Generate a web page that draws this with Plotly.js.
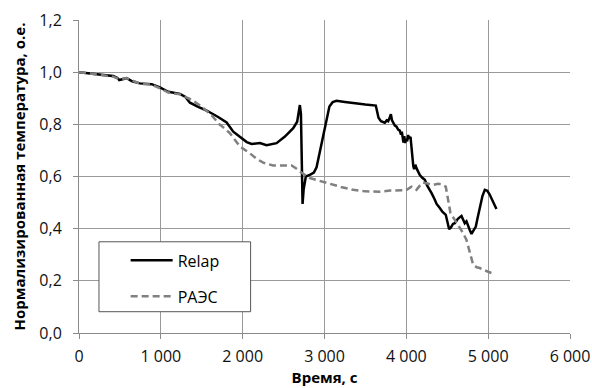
<!DOCTYPE html>
<html>
<head>
<meta charset="utf-8">
<script src="https://cdn.plot.ly/plotly-3.0.1.min.js"></script>
<style>html,body{margin:0;padding:0;background:#fff;}#chart{width:592px;height:388px;}</style>
</head>
<body>
<div id="chart"></div>
<script>
var relapTime = [0,175,300,419,470,492,582,650,745,888,989,1091,1234,1300,1356,1450,1560,1700,1804,1885,1987,2050,2109,2211,2292,2414,2516,2618,2666,2699,2712,2722,2732,2745,2772,2821,2870,2903,2935,2964,3000,3025,3060,3100,3147,3250,3350,3500,3627,3660,3690,3737,3760,3778,3800,3811,3825,3839,3860,3880,3900,3920,3935,3945,3953,3965,3975,3985,3995,4010,4022,4035,4051,4065,4075,4085,4095,4110,4124,4145,4165,4195,4226,4255,4287,4310,4348,4370,4409,4440,4482,4500,4523,4545,4570,4592,4630,4674,4695,4714,4735,4755,4775,4796,4820,4849,4870,4898,4930,4959,4990,5020,5060,5101];
var relapValues = [1.0,0.992,0.989,0.985,0.978,0.970,0.977,0.965,0.957,0.954,0.942,0.925,0.917,0.905,0.883,0.868,0.853,0.828,0.807,0.772,0.745,0.732,0.725,0.728,0.720,0.728,0.753,0.785,0.810,0.874,0.84,0.60,0.495,0.55,0.600,0.606,0.615,0.635,0.68,0.720,0.78,0.817,0.868,0.885,0.890,0.886,0.881,0.876,0.872,0.825,0.812,0.806,0.815,0.812,0.828,0.839,0.815,0.804,0.795,0.791,0.780,0.776,0.760,0.772,0.745,0.730,0.755,0.728,0.745,0.735,0.759,0.745,0.752,0.70,0.689,0.640,0.628,0.645,0.632,0.615,0.606,0.595,0.587,0.565,0.549,0.535,0.511,0.495,0.479,0.465,0.453,0.430,0.398,0.405,0.418,0.421,0.438,0.449,0.430,0.421,0.428,0.408,0.395,0.380,0.395,0.408,0.44,0.485,0.525,0.549,0.545,0.530,0.505,0.475];
var raesTime = [0,175,300,419,492,582,745,888,989,1091,1234,1376,1498,1620,1722,1762,1844,1966,2088,2170,2251,2373,2500,2598,2650,2699,2821,2940,3065,3200,3350,3500,3676,3800,3961,4000,4063,4124,4165,4205,4270,4328,4389,4440,4482,4500,4523,4539,4592,4640,4694,4735,4775,4816,4860,4898,4960,4999,5040];
var raesValues = [1.0,0.992,0.988,0.983,0.973,0.977,0.956,0.952,0.938,0.922,0.915,0.894,0.868,0.835,0.798,0.789,0.766,0.715,0.689,0.668,0.653,0.642,0.642,0.642,0.632,0.619,0.594,0.582,0.572,0.560,0.549,0.543,0.542,0.546,0.549,0.548,0.561,0.549,0.565,0.577,0.572,0.568,0.572,0.570,0.561,0.53,0.485,0.460,0.434,0.41,0.383,0.357,0.306,0.262,0.252,0.249,0.24,0.236,0.230];
var seriesNames = ['Relap', 'РАЭС'];
var xTitle = 'Время, с';
var yTitle = 'Нормализированная температура, о.е.';

var FONT = 'Open Sans, sans-serif';
var traces = [
  {x: relapTime, y: relapValues, name: seriesNames[0], type: 'scatter', mode: 'lines',
   line: {color: '#000000', width: 2.5}, legend: 'legend'},
  {x: raesTime, y: raesValues, name: seriesNames[1], type: 'scatter', mode: 'lines',
   line: {color: '#808080', width: 2.5, dash: '7px,4px'}, legend: 'legend2'}
];
var legendCommon = {bgcolor: 'rgba(0,0,0,0)', borderwidth: 0, font: {family: FONT, size: 16, color: '#000'},
  xanchor: 'left', yanchor: 'middle', itemwidth: 42};
var layout = {
  width: 592, height: 388,
  margin: {l: 79, r: 22, t: 20, b: 55},
  paper_bgcolor: '#fff', plot_bgcolor: '#fff',
  separators: ', ',
  font: {family: FONT, size: 16, color: '#000'},
  showlegend: true,
  legend: Object.assign({x: 0.095, y: 0.232}, legendCommon),
  legend2: Object.assign({x: 0.095, y: 0.117}, legendCommon),
  xaxis: {range: [0, 6000], dtick: 1000, tick0: 0, separatethousands: true, tickformat: ',d',
    showgrid: true, gridcolor: '#9a9a9a', gridwidth: 1, zeroline: false,
    showline: true, linecolor: '#8a8a8a', linewidth: 1,
    ticks: 'outside', ticklen: 5, tickcolor: '#8a8a8a', ticklabelstandoff: 4,
    tickfont: {family: FONT, size: 16, color: '#111'},
    title: {text: xTitle, font: {family: FONT, size: 15, color: '#000', weight: 'bold'}, standoff: 6}},
  yaxis: {range: [0, 1.2], dtick: 0.2, tick0: 0, tickformat: '.1f',
    showgrid: true, gridcolor: '#9a9a9a', gridwidth: 1, zeroline: false,
    showline: true, linecolor: '#8a8a8a', linewidth: 1,
    ticks: 'outside', ticklen: 5, tickcolor: '#8a8a8a', ticklabelstandoff: 8,
    tickfont: {family: FONT, size: 16, color: '#111'},
    title: {text: yTitle, font: {family: FONT, size: 15, color: '#000', weight: 'bold'}, standoff: 10}},
  shapes: [{type: 'rect', xref: 'paper', yref: 'paper', x0: 0.0407, x1: 0.3495, y0: 0.068, y1: 0.2914,
    fillcolor: '#ffffff', line: {color: '#555', width: 1}, layer: 'above'}]
};
Plotly.newPlot('chart', traces, layout, {displayModeBar: false, staticPlot: true});
</script>
</body>
</html>
